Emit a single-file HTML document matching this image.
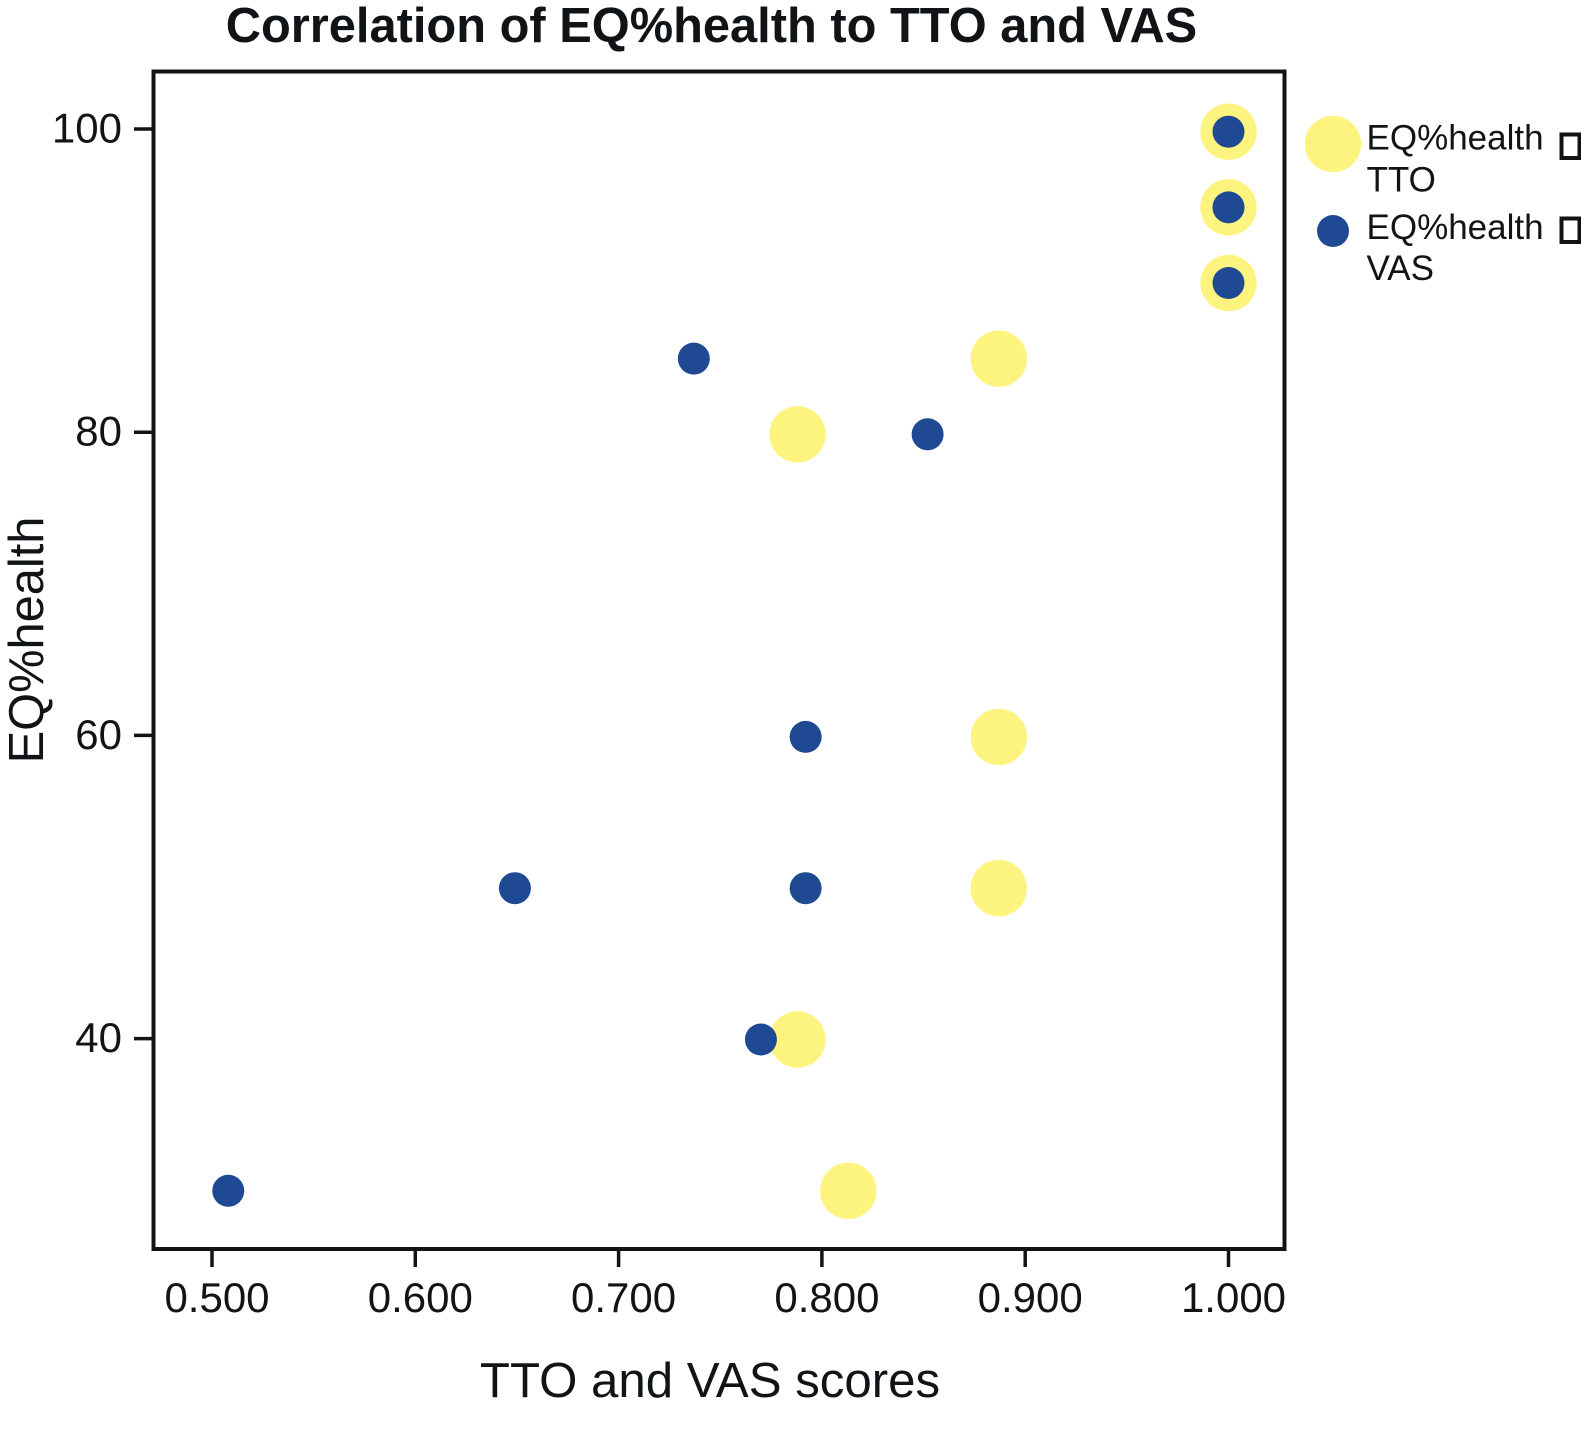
<!DOCTYPE html>
<html lang="en">
<head>
<meta charset="utf-8">
<title>Correlation of EQ%health to TTO and VAS</title>
<style>
  html, body { margin: 0; padding: 0; background: #fff; }
  svg { display: block; font-family: "Liberation Sans", Arial, sans-serif; }
  text { fill: #111417; }
</style>
</head>
<body>
<svg id="chart" xmlns="http://www.w3.org/2000/svg" width="1581" height="1444" viewBox="0 0 1581 1444">
  <rect x="0" y="0" width="1581" height="1444" fill="#ffffff"/>
  <text x="711.5" y="42" font-size="48.8" font-weight="700" text-anchor="middle">Correlation of EQ%health to TTO and VAS</text>
  <g id="marks"></g>
  <rect x="153.5" y="71.5" width="1131" height="1177.5" fill="none" stroke="#111417" stroke-width="4"/>
  <g id="x-axis"></g>
  <g id="y-axis"></g>
  <text x="710" y="1397" font-size="49.2" text-anchor="middle">TTO and VAS scores</text>
  <text transform="translate(43 640) rotate(-90)" font-size="48.8" text-anchor="middle">EQ%health</text>
  <g>
    <circle cx="1333" cy="144" r="28.2" fill="#fdf47f"/>
    <text font-size="35"><tspan x="1366.5" y="149.5">EQ%health</tspan><tspan x="1366.5" y="191.5">TTO</tspan></text>
    <rect x="1561.5" y="134.5" width="18" height="23.5" fill="none" stroke="#111417" stroke-width="4"/>
    <circle cx="1333" cy="231" r="16" fill="#1f4a93"/>
    <text font-size="35"><tspan x="1366.5" y="239">EQ%health</tspan><tspan x="1366.5" y="280">VAS</tspan></text>
    <rect x="1561.5" y="218.5" width="18" height="23.5" fill="none" stroke="#111417" stroke-width="4"/>
  </g>
</svg>
<script>
const xTickValues = [0.5, 0.6, 0.7, 0.8, 0.9, 1.0];
const xTickLabels = ["0.500", "0.600", "0.700", "0.800", "0.900", "1.000"];
const yTickValues = [100, 80, 60, 40];
const yTickLabels = ["100", "80", "60", "40"];
const ttoScores = [1.0, 1.0, 1.0, 0.887, 0.788, 0.887, 0.887, 0.788, 0.813];
const ttoHealth = [100, 95, 90, 85, 80, 60, 50, 40, 30];
const vasScores = [1.0, 1.0, 1.0, 0.737, 0.852, 0.792, 0.649, 0.792, 0.770, 0.508];
const vasHealth = [100, 95, 90, 85, 80, 60, 50, 50, 40, 30];

const NS = "http://www.w3.org/2000/svg";
function xScale(v) { return 212 + (v - 0.5) * 2033; }
function yScale(v) { return 131.7 + (100 - v) * 15.13; }
function yTickScale(v) { return 129 + (100 - v) * 15.16; }

const marks = document.getElementById("marks");
const xAxis = document.getElementById("x-axis");
const yAxis = document.getElementById("y-axis");

function addDot(x, y, r, fill) {
  const c = document.createElementNS(NS, "circle");
  c.setAttribute("cx", xScale(x));
  c.setAttribute("cy", yScale(y));
  c.setAttribute("r", r);
  c.setAttribute("fill", fill);
  marks.appendChild(c);
  return c;
}
ttoScores.forEach(function (s, i) {
  const dot = addDot(s, ttoHealth[i], 28.2, "#fdf47f");
  
  
});
vasScores.forEach(function (s, i) {
  const dot = addDot(s, vasHealth[i], 16, "#1f4a93");
  
  
});

xTickValues.forEach(function (v, i) {
  const px = xScale(v);
  const t = document.createElementNS(NS, "line");
  
  
  t.setAttribute("x1", px);
  t.setAttribute("x2", px);
  t.setAttribute("y1", 1249);
  t.setAttribute("y2", 1267);
  t.setAttribute("stroke", "#111417");
  t.setAttribute("stroke-width", 3.5);
  xAxis.appendChild(t);
  const l = document.createElementNS(NS, "text");
  
  
  l.setAttribute("x", px + 5);
  l.setAttribute("y", 1312);
  l.setAttribute("font-size", 42);
  l.setAttribute("text-anchor", "middle");
  l.textContent = xTickLabels[i];
  xAxis.appendChild(l);
});

yTickValues.forEach(function (v, i) {
  const py = yTickScale(v);
  const t = document.createElementNS(NS, "line");
  
  
  t.setAttribute("x1", 134);
  t.setAttribute("x2", 153);
  t.setAttribute("y1", py);
  t.setAttribute("y2", py);
  t.setAttribute("stroke", "#111417");
  t.setAttribute("stroke-width", 3.5);
  yAxis.appendChild(t);
  const l = document.createElementNS(NS, "text");
  
  
  l.setAttribute("x", 122);
  l.setAttribute("y", py + 13.5);
  l.setAttribute("font-size", 42);
  l.setAttribute("text-anchor", "end");
  l.textContent = yTickLabels[i];
  yAxis.appendChild(l);
});
</script>
</body>
</html>
